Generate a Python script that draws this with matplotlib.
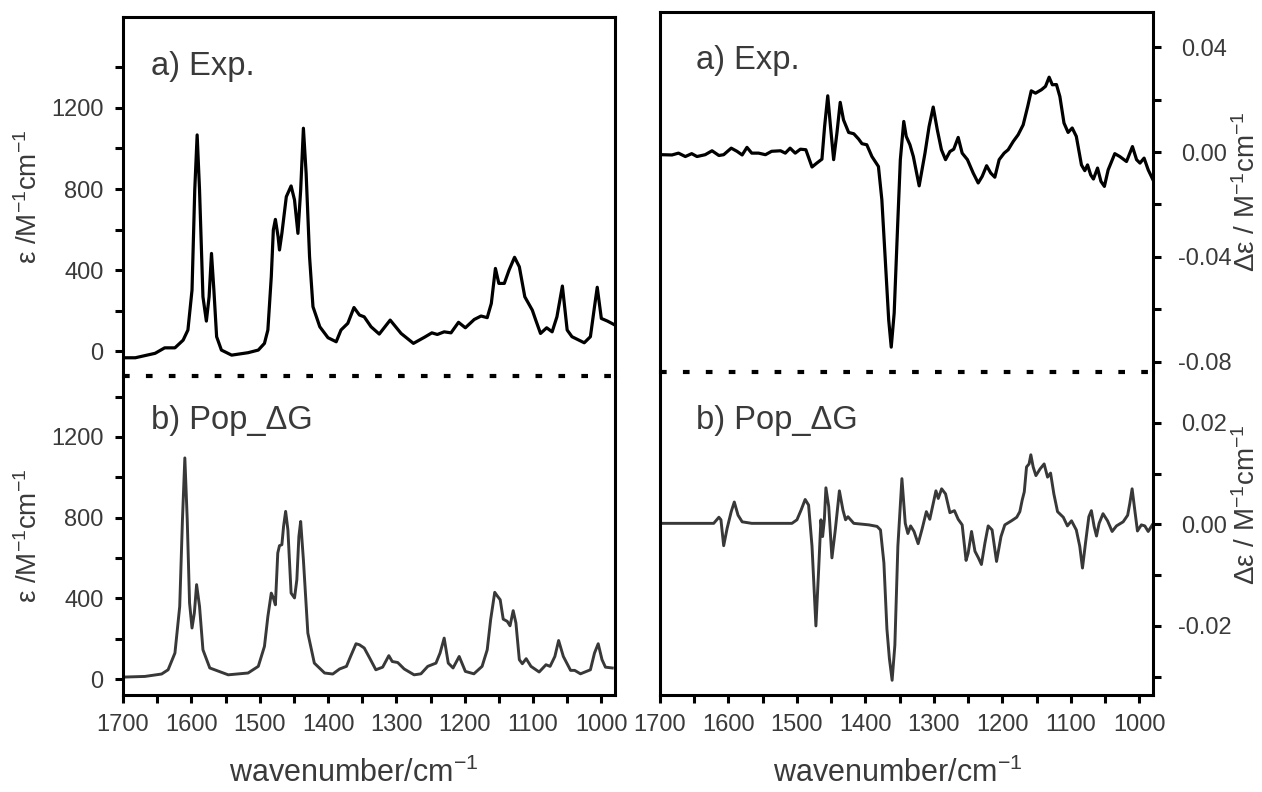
import matplotlib
matplotlib.use("Agg")
import matplotlib.pyplot as plt
from matplotlib.lines import Line2D
from matplotlib.ticker import FixedLocator, FuncFormatter

plt.rcParams["font.family"] = ["Liberation Sans", "DejaVu Sans"]
plt.rcParams["mathtext.fontset"] = "custom"
plt.rcParams["mathtext.rm"] = "Liberation Sans"
plt.rcParams["mathtext.it"] = "Liberation Sans:italic"
plt.rcParams["mathtext.default"] = "regular"
plt.rcParams["axes.unicode_minus"] = False

# IR, experiment (epsilon / M^-1 cm^-1)
ir_exp_wn = [1697, 1682, 1653, 1639, 1624, 1612, 1605, 1599, 1595, 1591.5, 1588, 1583,
             1578, 1574, 1570.5, 1567, 1563, 1556, 1541, 1517, 1502, 1493, 1488, 1483,
             1480, 1477, 1473, 1471, 1467.5, 1461, 1454, 1449, 1444, 1440, 1436, 1432,
             1427, 1422, 1412, 1400, 1388, 1381, 1371, 1362, 1354, 1347, 1337, 1325,
             1309, 1293, 1275, 1259, 1248, 1240, 1230, 1220, 1209, 1199, 1186, 1176,
             1167, 1161, 1155, 1150, 1142, 1135, 1127, 1120, 1112, 1101, 1096, 1089,
             1080, 1072, 1065, 1057, 1050, 1043, 1025, 1016, 1010, 1006, 1000, 991, 982]
ir_exp_val = [-33, -33, -11, 16, 16, 54, 104, 301, 795, 1067, 795, 268,
              148, 268, 482, 301, 71, 5, -20, -8, 5, 38, 104, 367,
              598, 650, 564, 499, 581, 762, 815, 746, 581, 795, 1100, 877,
              466, 219, 120, 66, 46, 104, 137, 215, 178, 169, 120, 84,
              153, 87, 38, 68, 90, 82, 95, 90, 142, 115, 156, 173,
              165, 235, 408, 334, 334, 400, 463, 416, 268, 202, 153, 87,
              115, 95, 169, 321, 104, 71, 41, 71, 219, 315, 161, 148, 132]

# IR, Pop_dG calculation
ir_calc_wn = [1697, 1668, 1643.5, 1634, 1624, 1617, 1613, 1609.5, 1606, 1602.6, 1599,
              1595.6, 1592.3, 1588, 1583, 1573, 1546, 1517, 1502, 1493, 1488, 1483,
              1480, 1477, 1473.5, 1471, 1467.5, 1465, 1462, 1458.7, 1454, 1449, 1445.6,
              1442.6, 1440, 1436, 1429.5, 1420, 1405, 1393, 1383, 1373, 1367, 1359,
              1354, 1347, 1339, 1330, 1320, 1311, 1306, 1298, 1288.5, 1274, 1264, 1254,
              1242, 1236, 1230, 1224, 1217, 1208, 1199, 1186.5, 1174.5, 1167, 1162,
              1156, 1152.5, 1148, 1143.6, 1137.7, 1133.6, 1129, 1125, 1120, 1115.6,
              1110, 1103, 1091, 1081, 1075, 1068, 1062.5, 1055.6, 1045, 1039, 1030.5,
              1016, 1010, 1004.6, 999, 994, 984]
ir_calc_val = [10, 13, 25, 46, 129, 360, 790, 1096, 790, 377, 253,
               327, 468, 360, 145, 55, 21, 30, 63, 162, 310, 426,
               402, 368, 625, 661, 666, 757, 831, 740, 426, 402, 492,
               707, 781, 591, 228, 79, 30, 25, 50, 63, 112, 175,
               170, 154, 104, 46, 59, 116, 87, 82, 50, 21, 26, 63,
               79, 129, 203, 79, 55, 112, 38, 26, 63, 145, 294,
               430, 413, 393, 297, 286, 264, 339, 278, 96, 76,
               101, 63, 35, 71, 63, 112, 191, 112, 43, 43, 26,
               46, 129, 175, 96, 59, 55]

# VCD, experiment (delta epsilon / M^-1 cm^-1)
vcd_exp_wn = [1697, 1682.5, 1673, 1663, 1653.7, 1646, 1634, 1624, 1614, 1607, 1596,
              1587.6, 1580, 1573, 1566, 1556, 1546, 1537, 1524, 1517, 1510, 1502.5,
              1495, 1487, 1478, 1471, 1463.5, 1459.6, 1455, 1451, 1446.4, 1441.6,
              1436.8, 1432, 1424.5, 1417, 1410, 1405, 1398, 1390.5, 1381, 1376, 1371,
              1366, 1362.3, 1358, 1353, 1349, 1344, 1340.4, 1335, 1330, 1321.5, 1313,
              1307, 1301, 1295, 1289, 1283, 1276.6, 1271, 1264.5, 1258.7, 1251, 1242.6,
              1235.3, 1229.5, 1223, 1217, 1211, 1204.7, 1197.4, 1191.5, 1184, 1177,
              1169.6, 1163, 1157.8, 1151.6, 1143, 1137, 1131.7, 1127, 1121, 1116, 1110,
              1104, 1098, 1092, 1084.5, 1079.6, 1075.6, 1071, 1067, 1061, 1056, 1051,
              1045.5, 1035.8, 1028.5, 1018.7, 1010, 1004, 999, 993, 987, 980]
vcd_exp_val = [-0.0010, -0.0011, -0.0004, -0.0017, -0.0006, -0.0017, -0.0010, 0.0005,
               -0.0013, -0.0010, 0.0015, 0.0003, -0.0011, 0.0018, -0.0004, -0.0004,
               -0.0010, 0.0003, 0.0005, -0.0004, 0.0015, -0.0004, 0.0011, 0.0009,
               -0.0057, -0.0042, -0.0027, 0.0098, 0.0215, 0.0098, -0.0029, 0.0073,
               0.0190, 0.0123, 0.0075, 0.0070, 0.0050, 0.0032, 0.0028, -0.0017,
               -0.0055, -0.0182, -0.0411, -0.0641, -0.0745, -0.0615, -0.0284, -0.0029,
               0.0117, 0.0060, 0.0028, -0.0017, -0.0129, -0.0004, 0.0098, 0.0172,
               0.0085, 0.0009, -0.0029, 0.0002, 0.0011, 0.0056, -0.0004, -0.0029,
               -0.0080, -0.0118, -0.0093, -0.0052, -0.0080, -0.0096, -0.0029, -0.0004,
               0.0009, 0.0041, 0.0066, 0.0104, 0.0174, 0.0234, 0.0225, 0.0238, 0.0251,
               0.0286, 0.0257, 0.0258, 0.0212, 0.0111, 0.0075, 0.0092, 0.0060, -0.0049,
               -0.0071, -0.0049, -0.0087, -0.0103, -0.0061, -0.0112, -0.0131, -0.0068,
               -0.0006, -0.0017, -0.0036, 0.0021, -0.0029, -0.0042, -0.0023, -0.0068,
               -0.0106]

# VCD, Pop_dG calculation
vcd_calc_wn = [1697, 1663, 1621.6, 1614, 1611, 1607, 1602, 1596, 1591.5, 1586, 1580,
               1566, 1507.3, 1500, 1494, 1488, 1483, 1478, 1472.3, 1468.3, 1465,
               1462.5, 1460, 1457.7, 1453.6, 1448.9, 1444, 1438, 1432.8, 1429, 1425.5,
               1417, 1395, 1383, 1378, 1373, 1368.6, 1365, 1361, 1357, 1352.6, 1346.7,
               1341.8, 1338, 1334, 1329, 1323, 1317, 1311, 1306, 1301, 1297, 1293.6,
               1288.7, 1283, 1276.6, 1270, 1264.5, 1258.7, 1253, 1250, 1245, 1240,
               1235, 1230.6, 1225.5, 1220.7, 1215, 1208.5, 1202, 1196.4, 1186.7, 1179,
               1174.5, 1171, 1168, 1164.7, 1161, 1158.4, 1155, 1151, 1145, 1139, 1134,
               1129.6, 1124.8, 1119.4, 1111, 1105, 1099, 1092, 1087, 1083, 1078.6,
               1073.7, 1070, 1066, 1062.5, 1058.7, 1053, 1046.4, 1039.7, 1033.3,
               1023.6, 1017, 1013.9, 1010.5, 1006.6, 1002.7, 997, 992, 987, 981]
vcd_calc_val = [0.0002, 0.0002, 0.0002, 0.0014, 0.0009, -0.0042, -0.0008, 0.0025,
                0.0044, 0.0018, 0.0005, 0.0002, 0.0002, 0.0009, 0.0028, 0.0049,
                0.0038, -0.0043, -0.0200, -0.0089, 0.0009, -0.0024, 0.0009, 0.0072,
                0.0035, -0.0066, -0.0011, 0.0066, 0.0028, 0.0009, 0.0015, 0.0002,
                -0.0001, -0.0004, -0.0011, -0.0076, -0.0206, -0.0264, -0.0307,
                -0.0238, -0.0043, 0.0090, 0.0002, -0.0018, -0.0003, -0.0014, -0.0038,
                -0.0008, 0.0025, 0.0010, 0.0041, 0.0066, 0.0051, 0.0070, 0.0060,
                0.0023, 0.0027, 0.0010, -0.0001, -0.0071, -0.0057, -0.0014, -0.0053,
                -0.0066, -0.0079, -0.0037, -0.0003, -0.0011, -0.0073, -0.0024,
                -0.0001, 0.0007, 0.0014, 0.0025, 0.0048, 0.0064, 0.0113, 0.0119,
                0.0137, 0.0113, 0.0096, 0.0109, 0.0119, 0.0093, 0.0101, 0.0060,
                0.0025, 0.0014, -0.0003, 0.0007, -0.0011, -0.0043, -0.0086, -0.0037,
                0.0015, 0.0027, -0.0004, -0.0023, 0.0002, 0.0021, 0.0007, -0.0014,
                -0.0003, 0.0005, 0.0018, 0.0041, 0.0070, 0.0028, -0.0013, -0.0001,
                -0.0003, -0.0014, -0.0001]

ir_major_ticks = [0, 400, 800, 1200]
ir_minor_ticks = [200, 600, 1000, 1400]
vcd_exp_major_ticks = [-0.08, -0.04, 0.00, 0.04]
vcd_exp_minor_ticks = [-0.06, -0.02, 0.02]
vcd_calc_major_ticks = [-0.02, 0.00, 0.02]
vcd_calc_minor_ticks = [-0.03, -0.01, 0.01]

FIG_W, FIG_H = 1262, 792
TEXT_GRAY = "#3a3a3a"
CALC_GRAY = "#383838"


def px_rect(x0, x1, y0, y1):
    """pixel box (top-left origin) -> figure fraction rect"""
    return [x0 / FIG_W, 1 - y1 / FIG_H, (x1 - x0) / FIG_W, (y1 - y0) / FIG_H]


def fmt2(v, pos):
    return f"{round(v, 4) + 0.0:.2f}"


def style_axes(ax, top_part, right_side):
    for s in ax.spines.values():
        s.set_linewidth(2.2)
        s.set_color("black")

    ax.set_xlim(1700, 980)
    ax.tick_params(which="both", direction="out", length=6, width=2.2,
                   labelsize=17, labelcolor=TEXT_GRAY)

    if top_part:
        # the dotted separator is drawn separately
        ax.spines["bottom"].set_visible(False)
        ax.tick_params(axis="x", which="both", bottom=False, top=False,
                       labelbottom=False)
    else:
        ax.spines["top"].set_visible(False)
        ax.xaxis.set_major_locator(FixedLocator(list(range(1700, 999, -100))))
        ax.xaxis.set_minor_locator(FixedLocator(list(range(1650, 999, -100))))
        ax.tick_params(axis="x", which="both", top=False, pad=8)

    if right_side:
        ax.yaxis.tick_right()
        ax.yaxis.set_label_position("right")
        ax.tick_params(axis="y", which="both", left=False, right=True, pad=31)
    else:
        ax.tick_params(axis="y", which="both", right=False, pad=8)


def add_separator(fig, x0, x1, y):
    yf = 1 - y / FIG_H
    fig.add_artist(Line2D([x0 / FIG_W, x1 / FIG_W], [yf, yf],
                          transform=fig.transFigure, color="black", lw=3.0,
                          linestyle=(0, (1.6, 3.9)), dash_capstyle="butt"))


def main():
    fig = plt.figure(figsize=(FIG_W / 100, FIG_H / 100), dpi=100)

    ax_ir_exp = fig.add_axes(px_rect(123, 615, 17, 376))
    ax_ir_calc = fig.add_axes(px_rect(123, 615, 376, 695))
    ax_vcd_exp = fig.add_axes(px_rect(660, 1153, 12, 371.5))
    ax_vcd_calc = fig.add_axes(px_rect(660, 1153, 371.5, 695))

    ax_ir_exp.plot(ir_exp_wn, ir_exp_val, color="black", lw=2.3)
    ax_ir_calc.plot(ir_calc_wn, ir_calc_val, color=CALC_GRAY, lw=2.1)
    ax_vcd_exp.plot(vcd_exp_wn, vcd_exp_val, color="black", lw=2.3)
    ax_vcd_calc.plot(vcd_calc_wn, vcd_calc_val, color=CALC_GRAY, lw=2.1)

    style_axes(ax_ir_exp, True, False)
    style_axes(ax_ir_calc, False, False)
    style_axes(ax_vcd_exp, True, True)
    style_axes(ax_vcd_calc, False, True)

    add_separator(fig, 123, 615, 376)
    add_separator(fig, 660, 1153, 371.5)

    # IR panels
    for ax in (ax_ir_exp, ax_ir_calc):
        ax.yaxis.set_major_locator(FixedLocator(ir_major_ticks))
        ax.yaxis.set_minor_locator(FixedLocator(ir_minor_ticks))
        ax.set_ylabel(r"ε /M$^{-1}$cm$^{-1}$", fontsize=20, color=TEXT_GRAY)
        ax.yaxis.set_label_coords(-0.163, 0.5)
    ax_ir_exp.set_ylim(-123, 1649)
    ax_ir_calc.set_ylim(-79, 1502)

    # VCD panels
    ax_vcd_exp.yaxis.set_major_locator(FixedLocator(vcd_exp_major_ticks))
    ax_vcd_exp.yaxis.set_minor_locator(FixedLocator(vcd_exp_minor_ticks))
    ax_vcd_exp.set_ylim(-0.0838, 0.0535)
    ax_vcd_calc.yaxis.set_major_locator(FixedLocator(vcd_calc_major_ticks))
    ax_vcd_calc.yaxis.set_minor_locator(FixedLocator(vcd_calc_minor_ticks))
    ax_vcd_calc.set_ylim(-0.0336, 0.0301)
    for ax, ypos in ((ax_vcd_exp, 0.5), (ax_vcd_calc, 0.59)):
        ax.yaxis.set_major_formatter(FuncFormatter(fmt2))
        plt.setp(ax.get_yticklabels(), ha="center")
        ax.set_ylabel(r"Δε / M$^{-1}$cm$^{-1}$", fontsize=20, color=TEXT_GRAY,
                      rotation=90)
        ax.yaxis.set_label_coords(1.162, ypos)

    ax_ir_calc.set_xlabel(r"wavenumber/cm$^{-1}$", fontsize=22, color=TEXT_GRAY)
    ax_ir_calc.xaxis.set_label_coords(0.468, -0.197)
    ax_vcd_calc.set_xlabel(r"wavenumber/cm$^{-1}$", fontsize=22, color=TEXT_GRAY)
    ax_vcd_calc.xaxis.set_label_coords(0.483, -0.194)

    # panel captions
    ax_ir_exp.text(0.056, 0.862, "a) Exp.", transform=ax_ir_exp.transAxes,
                   fontsize=23.5, color=TEXT_GRAY, va="center")
    ax_ir_calc.text(0.056, 0.86, "b) Pop_ΔG", transform=ax_ir_calc.transAxes,
                    fontsize=23.5, color=TEXT_GRAY, va="center")
    ax_vcd_exp.text(0.073, 0.866, "a) Exp.", transform=ax_vcd_exp.transAxes,
                    fontsize=23.5, color=TEXT_GRAY, va="center")
    ax_vcd_calc.text(0.073, 0.85, "b) Pop_ΔG", transform=ax_vcd_calc.transAxes,
                     fontsize=23.5, color=TEXT_GRAY, va="center")

    fig.savefig("out.png", dpi=100)
    plt.close(fig)


if __name__ == "__main__":
    main()
